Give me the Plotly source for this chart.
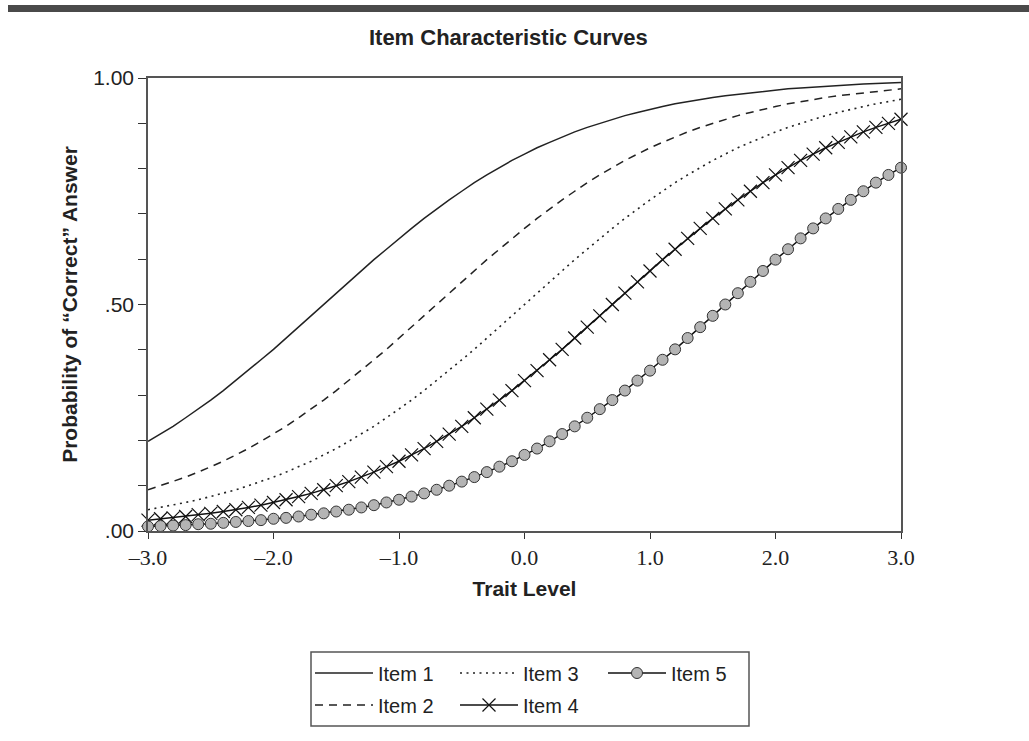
import plotly.graph_objects as go

theta = [-3.0, -2.9, -2.8, -2.7, -2.6, -2.5, -2.4, -2.3, -2.2, -2.1,
         -2.0, -1.9, -1.8, -1.7, -1.6, -1.5, -1.4, -1.3, -1.2, -1.1,
         -1.0, -0.9, -0.8, -0.7, -0.6, -0.5, -0.4, -0.3, -0.2, -0.1,
         0.0, 0.1, 0.2, 0.3, 0.4, 0.5, 0.6, 0.7, 0.8, 0.9,
         1.0, 1.1, 1.2, 1.3, 1.4, 1.5, 1.6, 1.7, 1.8, 1.9,
         2.0, 2.1, 2.2, 2.3, 2.4, 2.5, 2.6, 2.7, 2.8, 2.9, 3.0]

item1 = [0.198, 0.214, 0.231, 0.250, 0.269, 0.289, 0.310, 0.332, 0.354, 0.378,
         0.401, 0.426, 0.450, 0.475, 0.500, 0.525, 0.550, 0.574, 0.599, 0.622,
         0.646, 0.668, 0.690, 0.711, 0.731, 0.750, 0.769, 0.786, 0.802, 0.818,
         0.832, 0.846, 0.858, 0.870, 0.881, 0.891, 0.900, 0.909, 0.917, 0.924,
         0.931, 0.937, 0.943, 0.948, 0.953, 0.957, 0.961, 0.964, 0.968, 0.971,
         0.973, 0.976, 0.978, 0.980, 0.982, 0.984, 0.985, 0.987, 0.988, 0.989, 0.990]

item2 = [0.091, 0.100, 0.109, 0.119, 0.130, 0.142, 0.154, 0.168, 0.182, 0.198,
         0.214, 0.231, 0.250, 0.269, 0.289, 0.310, 0.332, 0.354, 0.378, 0.401,
         0.426, 0.450, 0.475, 0.500, 0.525, 0.550, 0.574, 0.599, 0.622, 0.646,
         0.668, 0.690, 0.711, 0.731, 0.750, 0.769, 0.786, 0.802, 0.818, 0.832,
         0.846, 0.858, 0.870, 0.881, 0.891, 0.900, 0.909, 0.917, 0.924, 0.931,
         0.937, 0.943, 0.948, 0.953, 0.957, 0.961, 0.964, 0.968, 0.971, 0.973, 0.976]

item3 = [0.047, 0.052, 0.057, 0.063, 0.069, 0.076, 0.083, 0.091, 0.100, 0.109,
         0.119, 0.130, 0.142, 0.154, 0.168, 0.182, 0.198, 0.214, 0.231, 0.250,
         0.269, 0.289, 0.310, 0.332, 0.354, 0.378, 0.401, 0.426, 0.450, 0.475,
         0.500, 0.525, 0.550, 0.574, 0.599, 0.622, 0.646, 0.668, 0.690, 0.711,
         0.731, 0.750, 0.769, 0.786, 0.802, 0.818, 0.832, 0.846, 0.858, 0.870,
         0.881, 0.891, 0.900, 0.909, 0.917, 0.924, 0.931, 0.937, 0.943, 0.948, 0.953]

item4 = [0.024, 0.027, 0.029, 0.032, 0.036, 0.039, 0.043, 0.047, 0.052, 0.057,
         0.063, 0.069, 0.076, 0.083, 0.091, 0.100, 0.109, 0.119, 0.130, 0.142,
         0.154, 0.168, 0.182, 0.198, 0.214, 0.231, 0.250, 0.269, 0.289, 0.310,
         0.332, 0.354, 0.378, 0.401, 0.426, 0.450, 0.475, 0.500, 0.525, 0.550,
         0.574, 0.599, 0.622, 0.646, 0.668, 0.690, 0.711, 0.731, 0.750, 0.769,
         0.786, 0.802, 0.818, 0.832, 0.846, 0.858, 0.870, 0.881, 0.891, 0.900, 0.909]

item5 = [0.010, 0.011, 0.012, 0.013, 0.015, 0.016, 0.018, 0.020, 0.022, 0.024,
         0.027, 0.029, 0.032, 0.036, 0.039, 0.043, 0.047, 0.052, 0.057, 0.063,
         0.069, 0.076, 0.083, 0.091, 0.100, 0.109, 0.119, 0.130, 0.142, 0.154,
         0.168, 0.182, 0.198, 0.214, 0.231, 0.250, 0.269, 0.289, 0.310, 0.332,
         0.354, 0.378, 0.401, 0.426, 0.450, 0.475, 0.500, 0.525, 0.550, 0.574,
         0.599, 0.622, 0.646, 0.668, 0.690, 0.711, 0.731, 0.750, 0.769, 0.786, 0.802]

x_tickvals = [-3, -2, -1, 0, 1, 2, 3]
x_ticktext = ["\u20133.0", "\u20132.0", "\u20131.0", "0.0", "1.0", "2.0", "3.0"]
y_tickvals = [0, 0.5, 1.0]
y_ticktext = [".00", ".50", "1.00"]

SANS = "Liberation Sans, Arial, Helvetica, sans-serif"
SERIF = "Liberation Serif, Times New Roman, serif"
INK = "#222222"

fig = go.Figure()

fig.add_trace(go.Scatter(x=theta, y=item1, mode="lines", name="Item 1",
                         line=dict(color=INK, width=1.5), legend="legend"))
fig.add_trace(go.Scatter(x=theta, y=item2, mode="lines", name="Item 2",
                         line=dict(color=INK, width=1.5, dash="8px,6px"), legend="legend2"))
fig.add_trace(go.Scatter(x=theta, y=item3, mode="lines", name="Item 3",
                         line=dict(color=INK, width=1.6, dash="2px,4.5px"), legend="legend3"))
fig.add_trace(go.Scatter(x=theta, y=item4, mode="lines+markers", name="Item 4",
                         line=dict(color="#111111", width=1.5),
                         marker=dict(symbol="x-thin", size=13, color="#111111",
                                     line=dict(color="#111111", width=1.2)),
                         cliponaxis=False, legend="legend4"))
fig.add_trace(go.Scatter(x=theta, y=item5, mode="lines+markers", name="Item 5",
                         line=dict(color="#111111", width=1.5),
                         marker=dict(symbol="circle", size=11, color="#b4b4b4",
                                     line=dict(color="#333333", width=1)),
                         cliponaxis=False, legend="legend5"))

PL, PR, PT, PB = 148, 128, 78, 210
PW = 1029 - PL - PR
PH = 741 - PT - PB

def px_x(p):
    return (p - PL) / PW

def px_y(p):
    return (741 - PB - p) / PH

def leg(xpx, ypx):
    return dict(x=px_x(xpx), y=px_y(ypx), xanchor="left", yanchor="middle",
                orientation="v", bgcolor="rgba(0,0,0,0)", borderwidth=0,
                itemwidth=58, font=dict(family=SANS, size=20, color=INK),
                itemclick=False, itemdoubleclick=False)

fig.update_layout(
    width=1029, height=741,
    margin=dict(l=PL, r=PR, t=PT, b=PB, pad=0),
    paper_bgcolor="white", plot_bgcolor="white",
    title=dict(text="<b>Item Characteristic Curves</b>", x=px_x(520), xanchor="center",
               y=1 - 37 / 741, yanchor="middle",
               font=dict(family=SANS, size=22, color=INK)),
    showlegend=True,
    legend=leg(310, 673),
    legend2=leg(310, 705),
    legend3=leg(455, 673),
    legend4=leg(455, 705),
    legend5=leg(603, 673),
    xaxis=dict(range=[-3, 3], tickmode="array", tickvals=x_tickvals, ticktext=x_ticktext,
               showgrid=False, zeroline=False, showline=True, mirror=True,
               linecolor="#555555", linewidth=1.6,
               ticks="outside", ticklen=6, tickwidth=1.4, tickcolor="#333333",
               tickfont=dict(family=SERIF, size=22, color=INK),
               title=dict(text="<b>Trait Level</b>", standoff=12,
                          font=dict(family=SANS, size=21, color=INK))),
    yaxis=dict(range=[0, 1], tickmode="array", tickvals=y_tickvals, ticktext=y_ticktext,
               showgrid=False, zeroline=False, showline=True, mirror=True,
               linecolor="#555555", linewidth=1.6,
               ticks="outside", ticklen=8, tickwidth=1.4, tickcolor="#333333",
               minor=dict(tickmode="linear", tick0=0, dtick=0.1, ticks="outside",
                          ticklen=8, tickwidth=1.4, tickcolor="#333333", showgrid=False),
               tickfont=dict(family=SANS, size=21, color=INK),
               title=dict(text="<b>Probability of \u201cCorrect\u201d Answer</b>", standoff=10,
                          font=dict(family=SANS, size=21, color=INK))),
    shapes=[
        dict(type="rect", xref="paper", yref="paper",
             x0=px_x(311), x1=px_x(749), y0=px_y(726), y1=px_y(652),
             line=dict(color="#555555", width=1.5), fillcolor="rgba(0,0,0,0)", layer="below"),
        dict(type="rect", xref="paper", yref="paper",
             x0=px_x(8), x1=px_x(1029), y0=px_y(12), y1=px_y(5),
             line=dict(width=0), fillcolor="#4a4a4a", layer="above"),
    ],
)

fig.write_html("out.html")
